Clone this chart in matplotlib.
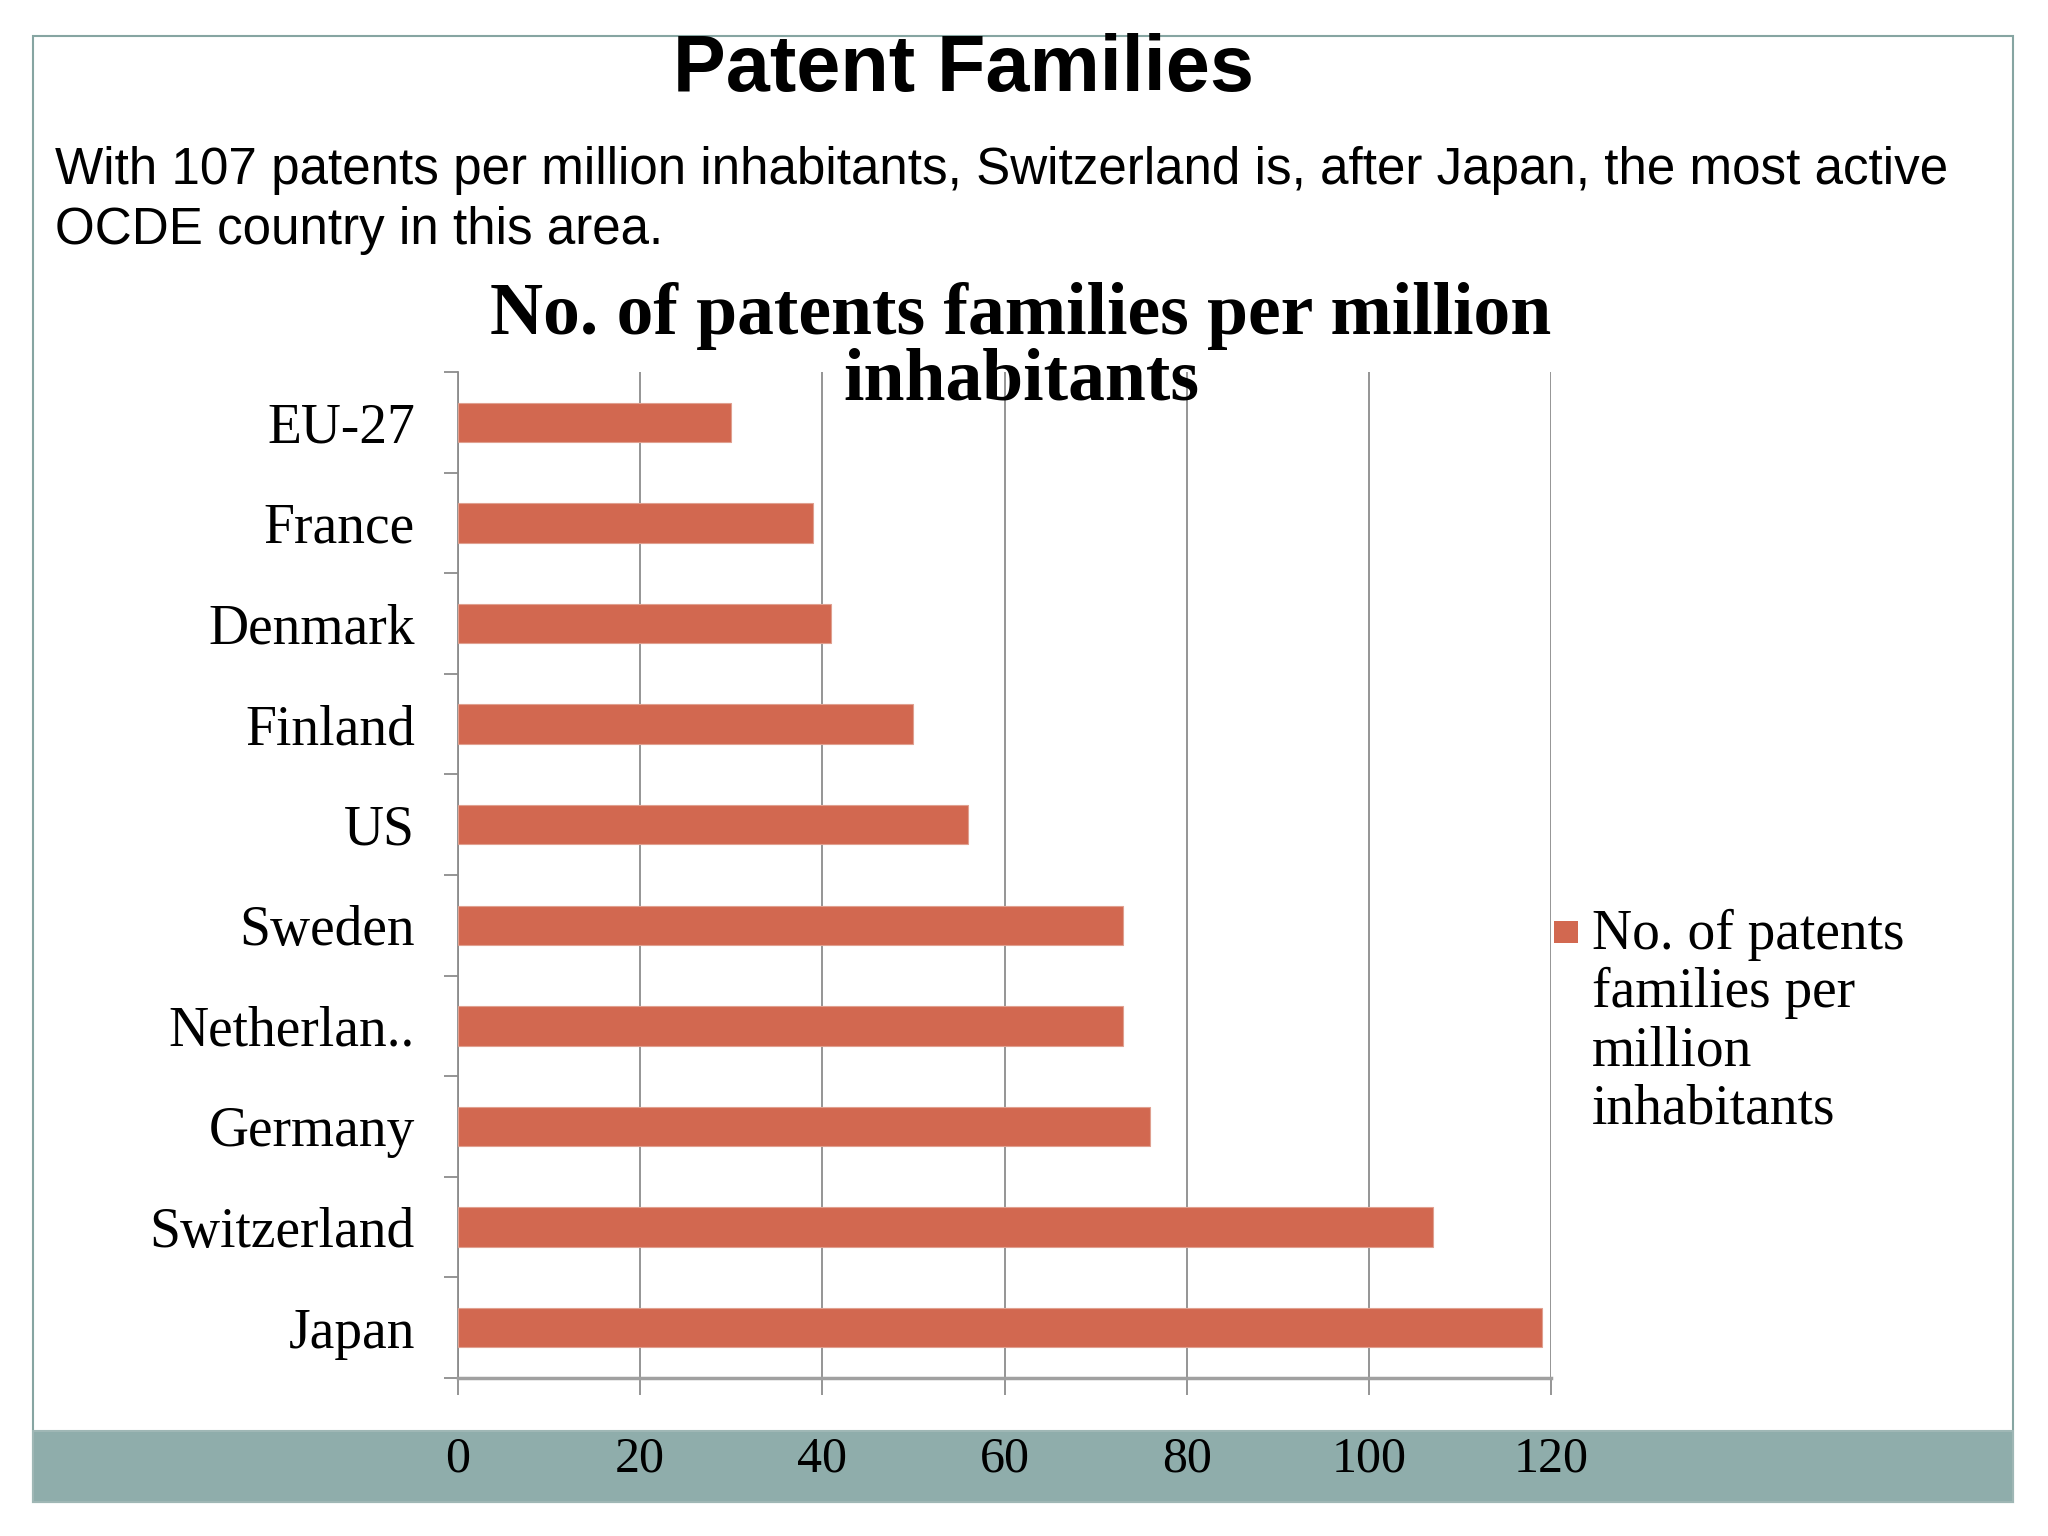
import numpy as np
import matplotlib.pyplot as plt
from matplotlib.patches import Rectangle

countries = ["EU-27", "France", "Denmark", "Finland", "US", "Sweden",
             "Netherlan..", "Germany", "Switzerland", "Japan"]
patents = [30, 39, 41, 50, 56, 73, 73, 76, 107, 119]
x_ticks = [0, 20, 40, 60, 80, 100, 120]
series_name = "No. of patents\nfamilies per\nmillion\ninhabitants"

bar_color = "#d26850"
grid_color = "#8c8c8c"
frame_color = "#86a5a2"
band_color = "#8fadab"
serif = "Liberation Serif"
sans = "Liberation Sans"

fig = plt.figure(figsize=(20.48, 15.36), dpi=100)
fig.patch.set_facecolor("white")

# slide frame and bottom band
fig.patches.append(Rectangle((33 / 2048, 34 / 1536), 1980 / 2048, 1466 / 1536,
                             transform=fig.transFigure, fill=False,
                             edgecolor=frame_color, lw=1.5, zorder=0))
fig.patches.append(Rectangle((33 / 2048, 34 / 1536), 1980 / 2048, 71 / 1536,
                             transform=fig.transFigure, facecolor=band_color,
                             edgecolor="#9fb7b5", lw=1.5, zorder=0))

# slide title and text
fig.text(0.4707, 1 - 91 / 1536, "Patent Families", family=sans, weight="bold",
         fontsize=57, ha="center", va="baseline")
fig.text(55 / 2048, 1 - 184 / 1536,
         "With 107 patents per million inhabitants, Switzerland is, after Japan, the most active",
         family=sans, fontsize=36.8, ha="left", va="baseline")
fig.text(55 / 2048, 1 - 244 / 1536, "OCDE country in this area.",
         family=sans, fontsize=36.8, ha="left", va="baseline")

ax = fig.add_axes([458 / 2048, 158 / 1536, 1093 / 2048, 1006 / 1536])
ax.set_facecolor("none")
ax.set_zorder(2)

y = np.arange(len(countries))
ax.barh(y, patents, height=0.39, color=bar_color, edgecolor="#e0a090",
        linewidth=0.8, zorder=3)

ax.set_xlim(0, 120)
ax.set_ylim(len(countries) - 0.5, -0.5)
ax.set_xticks(x_ticks)
ax.set_xticklabels([str(v) for v in x_ticks], family=serif, fontsize=36)
ax.set_yticks(y)
ax.set_yticklabels(countries, family=serif, fontsize=40)
ax.set_yticks(np.arange(len(countries) + 1) - 0.5, minor=True)

ax.xaxis.grid(True, color=grid_color, lw=1.3, zorder=1)
ax.tick_params(axis="x", which="major", length=12, width=1.3, color=grid_color,
               pad=30)
ax.tick_params(axis="y", which="major", length=0, pad=31)
ax.tick_params(axis="y", which="minor", length=10, width=1.3, color=grid_color)

for s in ["top", "right"]:
    ax.spines[s].set_visible(False)
ax.spines["left"].set_color(grid_color)
ax.spines["left"].set_linewidth(1.3)
ax.spines["bottom"].set_color("#a0a0a0")
ax.spines["bottom"].set_linewidth(2.5)

# chart title
fig.text(0.4985, 1 - 334 / 1536, "No. of patents families per million",
         family=serif, weight="bold", fontsize=53, ha="center", va="baseline",
         zorder=5)
fig.text(0.4985, 1 - 400 / 1536, "inhabitants",
         family=serif, weight="bold", fontsize=53, ha="center", va="baseline",
         zorder=5)

# legend
fig.patches.append(Rectangle((1554 / 2048, 1 - 943 / 1536), 24 / 2048, 22 / 1536,
                             transform=fig.transFigure, facecolor=bar_color,
                             edgecolor="none"))
fig.text(1592 / 2048, 1 - 909 / 1536, series_name, family=serif, fontsize=40,
         ha="left", va="top", linespacing=1.15)

fig.savefig("out.png", dpi=100)
